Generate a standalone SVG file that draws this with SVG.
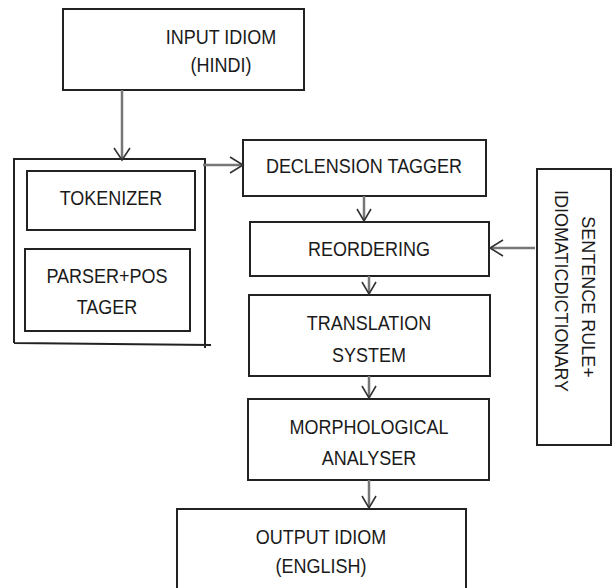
<svg xmlns="http://www.w3.org/2000/svg" width="613" height="588" viewBox="0 0 613 588">
<style>
.box{fill:#fff;stroke:#222;stroke-width:2}
.frame{fill:none;stroke:#222;stroke-width:2}
.t{font-family:"Liberation Sans",Arial,sans-serif;font-size:18px;fill:#1a1a1a;text-anchor:middle}
.c{stroke:#777;stroke-width:2.5;fill:none}
.h{stroke:#333;stroke-width:1.6;fill:none}
</style>
<rect width="613" height="588" fill="#fff"/>
<g id="input"><rect class="box" x="63" y="9" width="241" height="81"/><text class="t" x="221" y="44" transform="translate(0,-6) scale(1,1.13)">INPUT IDIOM</text><text class="t" x="221" y="72" transform="translate(0,-9) scale(1,1.13)">(HINDI)</text></g>
<g id="preprocessing"><path class="frame" d="M14,159 H205 M14,158 V343 M205,158 V348 M14,343 L211,345"/></g>
<g id="tokenizer"><rect class="box" x="27" y="171" width="168" height="59"/><text class="t" x="111" y="205" transform="translate(0,-27) scale(1,1.13)">TOKENIZER</text></g>
<g id="parser"><rect class="box" x="25" y="249" width="165" height="82"/><text class="t" x="107" y="283" transform="translate(0,-37) scale(1,1.13)">PARSER+POS</text><text class="t" x="107" y="314" transform="translate(0,-41) scale(1,1.13)">TAGER</text></g>
<g id="declension"><rect class="box" x="243" y="140" width="243" height="56"/><text class="t" x="364" y="173" transform="translate(0,-22) scale(1,1.13)">DECLENSION TAGGER</text></g>
<g id="reordering"><rect class="box" x="250" y="222" width="239" height="54"/><text class="t" x="369" y="256" transform="translate(0,-33) scale(1,1.13)">REORDERING</text></g>
<g id="translation"><rect class="box" x="249" y="295" width="241" height="81"/><text class="t" x="369" y="329" transform="translate(0,-42) scale(1,1.13)">TRANSLATION</text><text class="t" x="369" y="361" transform="translate(0,-46) scale(1,1.13)">SYSTEM</text></g>
<g id="morphological"><rect class="box" x="248" y="399" width="241" height="81"/><text class="t" x="369" y="434" transform="translate(0,-56) scale(1,1.13)">MORPHOLOGICAL</text><text class="t" x="369" y="465" transform="translate(0,-60) scale(1,1.13)">ANALYSER</text></g>
<g id="output"><rect class="box" x="177" y="509" width="289" height="90"/><text class="t" x="321" y="543" transform="translate(0,-70) scale(1,1.13)">OUTPUT IDIOM</text><text class="t" x="321" y="573" transform="translate(0,-74) scale(1,1.13)">(ENGLISH)</text></g>
<g id="dictionary"><rect class="box" x="537" y="169" width="74" height="276"/><text class="t" transform="translate(582,297) rotate(90) scale(1,1.05)">SENTENCE RULE+</text><text class="t" transform="translate(555,291) rotate(90) scale(1,1.05)">IDIOMATICDICTIONARY</text></g>
<g id="connectors">
<path class="c" d="M122,90 V159"/><path class="h" d="M114,148 L122,160 L130,148"/>
<path class="c" d="M203,165 H242"/><path class="h" d="M230,157 L243,165 L230,173"/>
<path class="c" d="M364,196 V220"/><path class="h" d="M357,209 L364,221 L371,209"/>
<path class="c" d="M535,248 H491"/><path class="h" d="M503,240 L490,248 L503,256"/>
<path class="c" d="M369,276 V293"/><path class="h" d="M362,282 L369,294 L376,282"/>
<path class="c" d="M369,376 V397"/><path class="h" d="M362,386 L369,398 L376,386"/>
<path class="c" d="M369,480 V507"/><path class="h" d="M362,496 L369,508 L376,496"/>
</g>
</svg>
